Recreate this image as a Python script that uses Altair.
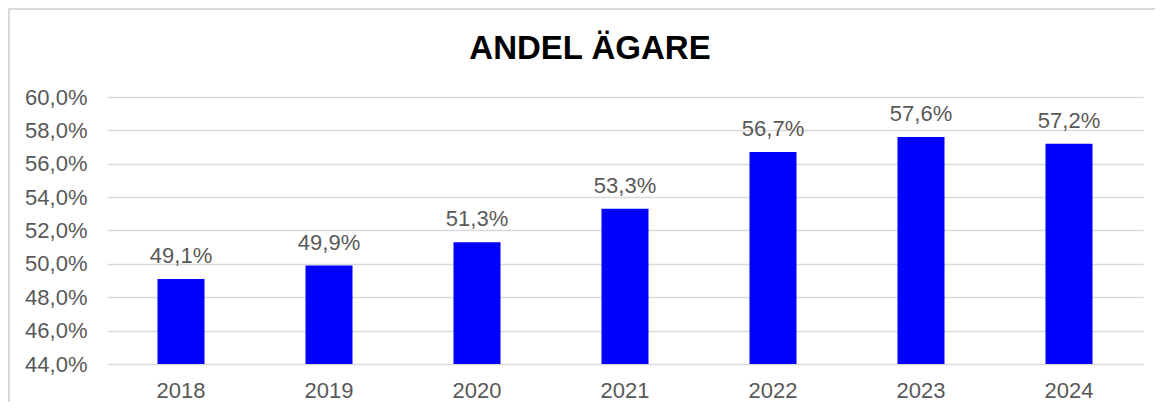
import altair as alt
import pandas as pd

years = ["2018", "2019", "2020", "2021", "2022", "2023", "2024"]
values = [0.491, 0.499, 0.513, 0.533, 0.567, 0.576, 0.572]
y_ticks = [0.44, 0.46, 0.48, 0.50, 0.52, 0.54, 0.56, 0.58, 0.60]

df = pd.DataFrame({"year": years, "value": values})

FONT = "Liberation Sans"
GRAY = "#595959"

x = alt.X("year:N", sort=years, title=None,
          scale=alt.Scale(paddingInner=0, paddingOuter=0),
          axis=alt.Axis(labelAngle=0, labelFontSize=22, labelFont=FONT, labelColor=GRAY,
                        ticks=False, domain=False, labelPadding=16, grid=False))
y = alt.Y("value:Q", title=None,
          scale=alt.Scale(domain=[0.44, 0.60], nice=False, zero=False),
          axis=alt.Axis(values=y_ticks, tickCount=20,
                        labelExpr="replace(format(datum.value, '.1%'), '.', ',')",
                        labelFontSize=22, labelFont=FONT, labelColor=GRAY, ticks=False,
                        labelOverlap=False, labelBound=False,
                        domain=False, labelPadding=20, grid=True, gridColor="#d9d9d9",
                        gridWidth=1.5))

base = alt.Chart(df)
bars = base.mark_bar(color="#0000FF", size=47, clip=True).encode(x=x, y=y)
labels = base.transform_calculate(
    lbl="replace(format(datum.value, '.1%'), '.', ',')"
).mark_text(font=FONT, fontSize=22, color=GRAY, baseline="alphabetic", dy=-16).encode(
    x=alt.X("year:N", sort=years), y="value:Q", text="lbl:N")

border = alt.Chart(alt.Data(values=[{"a": 1}])).mark_rect(
    fill=None, stroke="#d9d9d9", strokeWidth=2).encode(
    x=alt.value(-98), x2=alt.value(1200), y=alt.value(-88), y2=alt.value(400))

chart = alt.layer(border, bars, labels).properties(
    width=1036, height=267,
    padding={"left": 99, "top": 89, "right": 12, "bottom": 38},
    autosize=alt.AutoSizeParams(type="none"),
    title=alt.TitleParams("ANDEL ÄGARE", fontSize=33, fontWeight="bold", font=FONT,
                          color="black", anchor="middle", frame="group", dx=-35,
                          offset=-84, baseline="alphabetic"),
).configure_view(stroke=None)

chart.save("out.html", embed_options={"renderer": "svg", "actions": False})
